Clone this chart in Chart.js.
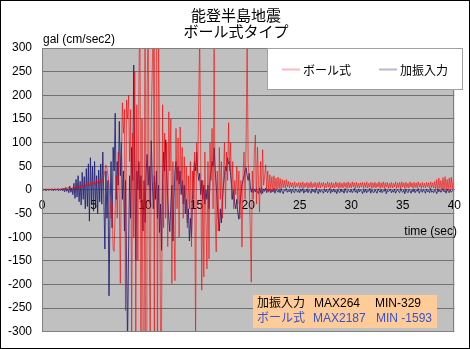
<!DOCTYPE html>
<html><head><meta charset="utf-8">
<script src="https://cdn.jsdelivr.net/npm/chart.js@4/dist/chart.umd.min.js"></script>
<style>html,body{margin:0;padding:0;background:#fff}canvas{display:block}</style>
</head><body>
<canvas id="c" width="470" height="349"></canvas>
<script>
// ---- data (sampled every 0.1 s, 0..40 s) ----
const T_START = 0;
const T_STEP = 0.1;
const X_TICK_MIN = 0, X_TICK_MAX = 40, X_TICK_STEP = 5;
const Y_TICK_MIN = -300, Y_TICK_MAX = 300, Y_TICK_STEP = 50;
const TITLE_LINES = ['能登半島地震', 'ボール式タイプ'];
const Y_TITLE = 'gal (cm/sec2)';
const X_TITLE = 'time (sec)';
const SERIES_NAMES = ['ボール式', '加振入力'];

// 加振入力 (input)
const inputAccel = [
  0,1,-1,2,-2,1,0,-1,2,-1,
  1,-2,2,-1,0,2,-2,1,-1,2,
  -2,3,-4,5,-3,2,-6,8,-5,4,
  -10,14,-18,22,-15,30,-25,18,-32,37,
  -20,28,-40,45,-35,55,-66,68,-30,50,
  -45,60,-38,30,-50,42,-25,55,-30,80,
  -20,-125,40,-60,20,-224,-40,60,-80,90,
  40,162,-20,60,10,145,30,100,-20,40,
  -87,20,-150,-329,-120,30,-60,90,20,264,
  50,-150,40,0,60,-20,30,-40,-87,20,
  -69,40,75,10,50,-30,104,20,-40,30,
  -20,40,-60,10,-90,-30,-128,20,80,40,
  106,30,-20,-60,-88,-30,10,-108,-20,40,
  60,20,50,12,40,-10,20,-30,10,-50,
  -20,-70,-40,-108,-60,-100,-20,30,60,40,
  80,40,20,35,-10,20,-20,10,-30,0,
  -20,10,-40,20,40,60,50,89,40,10,
  -30,-60,-87,-40,-70,-20,10,30,50,40,
  68,55,60,30,10,-20,0,-30,-40,-20,
  -50,-62,-30,-10,10,20,30,40,47,30,
  20,35,10,-5,3,-6,2,-4,3,-5,
  -8,4,-6,5,-7,2,-3,4,-6,1,
  -3,2,-6,0,-4,3,-7,1,-2,-5,
  1,-6,2,-3,-8,0,-2,3,-5,-1,
  -4,2,-7,1,-3,-6,2,-2,-5,0,
  -6,1,-3,3,-7,-1,-4,2,-6,0,
  -2,-7,2,-4,0,-6,3,-3,-8,1,
  -5,0,-3,-7,2,-4,1,-6,-2,3,
  -7,0,-4,2,-5,-1,-8,1,-3,-6,
  2,-4,-1,-7,3,-3,-6,0,-2,-5,
  1,-6,-2,3,-5,-1,-7,2,-4,0,
  -3,-8,1,-5,2,-6,-1,-3,3,-7,
  0,-4,-6,1,-3,-7,2,-2,-5,1,
  -6,-1,-3,3,-8,0,-4,-2,2,-6,
  -1,-5,2,-7,-2,1,-4,-6,3,-3,
  -5,0,-8,2,-3,-6,1,-2,-7,0,
  -4,2,-6,-1,-3,3,-7,-2,0,-5,
  1,-3,-7,2,-4,-1,-6,3,-5,-2,
  -6,1,-3,-8,2,-4,0,-5,-2,3,
  -4,-1,-7,2,-3,-6,1,-5,-2,0,
  -3
];

// ボール式 (ball type)
const ballAccel = [
  1,2,1,1,2,1,2,1,1,2,
  2,1,2,2,1,2,3,1,2,3,
  3,1,4,2,5,1,6,2,4,3,
  5,2,7,3,8,4,9,3,10,5,
  8,14,6,12,10,16,8,14,9,17,
  12,18,10,20,14,22,12,20,16,25,
  28,40,53,45,30,10,-20,-60,-30,-125,
  -130,-40,30,-60,80,-20,-198,60,184,120,
  170,-255,190,150,200,60,170,-310,120,-100,
  250,-320,180,-150,220,400,-350,150,-300,-340,
  350,-1593,200,380,-100,-350,150,253,400,-300,
  2187,380,-400,350,100,-320,-300,180,-80,120,
  -60,100,-120,165,40,150,-198,60,-80,-192,
  130,-40,110,-100,133,20,90,-60,70,-30,
  50,-80,30,-40,60,-120,40,-20,80,-320,
  100,40,180,330,60,-212,20,-184,80,-60,
  -167,60,-146,100,20,130,-40,310,-60,-131,
  40,-87,90,-20,60,-60,30,100,-40,80,
  20,142,40,100,-20,60,-40,20,-10,50,
  -30,40,-60,20,-121,30,80,-20,100,310,
  60,20,-80,-195,40,-20,80,116,-30,90,
  20,-47,60,-10,85,10,30,53,0,40,
  -5,32,0,28,-3,30,2,25,0,27,
  3,24,2,22,5,20,4,22,6,18,
  4,16,6,15,3,17,5,14,7,16,
  3,15,5,17,4,14,6,16,3,15,
  5,17,4,14,6,16,3,15,5,17,
  4,15,7,16,3,14,5,17,6,15,
  3,16,5,14,4,17,6,15,3,16,
  5,14,4,16,6,15,3,17,5,14,
  4,17,6,15,3,16,5,14,4,15,
  6,16,3,15,5,17,4,14,6,16,
  3,15,5,16,4,14,6,17,3,15,
  5,17,4,15,6,16,3,14,5,16,
  4,14,6,17,3,15,5,16,4,17,
  6,15,3,16,5,14,4,17,6,15,
  3,16,5,15,4,17,6,14,3,16,
  5,14,4,16,6,15,3,17,5,15,
  4,18,2,22,0,25,3,20,-1,26,
  2,28,0,22,-2,25,3,27,1,24,
  10
];

const toXY = vals => vals.map((v, i) => ({x: +(T_START + i * T_STEP).toFixed(1), y: v}));

const FONT = "'Liberation Sans', 'Noto Sans CJK JP', sans-serif";
const CJK = "'Noto Sans CJK JP', 'Liberation Sans', sans-serif";
const RED = 'rgba(255,0,0,0.6)';
const NAVY = 'rgba(25,25,115,0.8)';
const LEGEND_COLORS = ['#F9B8C0', '#B8B8D2'];

const decor = {
  id: 'decor',
  beforeDraw(chart) {
    const {ctx, chartArea: a} = chart;
    ctx.save();
    ctx.fillStyle = '#fff';
    ctx.fillRect(0, 0, chart.width, chart.height);
    ctx.fillStyle = '#C0C0C0';
    ctx.fillRect(a.left, a.top, a.right - a.left, a.bottom - a.top);
    ctx.restore();
  },
  afterDraw(chart) {
    const {ctx, chartArea: a} = chart;
    ctx.save();
    // plot frame
    ctx.strokeStyle = '#808080';
    ctx.lineWidth = 1;
    ctx.strokeRect(Math.round(a.left) + 0.5, Math.round(a.top) + 0.5, Math.round(a.right - a.left) - 1, Math.round(a.bottom - a.top) - 1);
    // title
    ctx.fillStyle = '#000';
    ctx.textAlign = 'center';
    ctx.textBaseline = 'middle';
    ctx.font = '15px ' + CJK;
    ctx.fillText(TITLE_LINES[0], 236, 15);
    ctx.fillText(TITLE_LINES[1], 236, 31);
    // axis titles
    ctx.font = '12px ' + FONT;
    ctx.textAlign = 'left';
    ctx.fillText(Y_TITLE, 43, 40);
    ctx.textAlign = 'right';
    ctx.fillText(X_TITLE, 457, 232);
    // legend
    ctx.fillStyle = '#fff';
    ctx.fillRect(267.5, 48.5, 195, 41);
    ctx.strokeStyle = '#A0A0A0';
    ctx.strokeRect(267.5, 48.5, 195, 41);
    const ds = chart.data.datasets;
    const items = [[282, 303], [379, 400]];
    ctx.font = '12px ' + CJK;
    ctx.textAlign = 'left';
    ds.forEach((d, i) => {
      ctx.strokeStyle = LEGEND_COLORS[i];
      ctx.lineWidth = 2;
      ctx.beginPath();
      ctx.moveTo(items[i][0], 69.5);
      ctx.lineTo(items[i][0] + 18, 69.5);
      ctx.stroke();
      ctx.fillStyle = '#000';
      ctx.fillText(d.label, items[i][1], 70);
    });
    // annotation box
    ctx.fillStyle = '#FFCC99';
    ctx.fillRect(253, 295, 184, 33);
    const inMax = Math.max(...inputAccel), inMin = Math.min(...inputAccel);
    const bMax = Math.max(...ballAccel), bMin = Math.min(...ballAccel);
    ctx.font = '12px ' + FONT;
    ctx.fillStyle = '#000';
    ctx.fillText(SERIES_NAMES[1], 257, 304);
    ctx.fillText('MAX' + inMax, 314, 304);
    ctx.fillText('MIN' + inMin, 375, 304);
    ctx.fillStyle = '#3355CC';
    ctx.fillText(SERIES_NAMES[0], 257, 318.5);
    ctx.fillText('MAX' + bMax, 313, 318.5);
    ctx.fillText('MIN ' + bMin, 376, 318.5);
    // outer frame
    ctx.strokeStyle = '#000';
    ctx.lineWidth = 1;
    ctx.strokeRect(0.5, 0.5, chart.width - 1, chart.height - 1);
    ctx.restore();
  }
};

new Chart(document.getElementById('c'), {
  type: 'line',
  data: {
    datasets: [
      {label: SERIES_NAMES[0], data: toXY(ballAccel), borderColor: RED, borderWidth: 1, pointRadius: 0, tension: 0, fill: false},
      {label: SERIES_NAMES[1], data: toXY(inputAccel), borderColor: NAVY, borderWidth: 1, pointRadius: 0, tension: 0, fill: false}
    ]
  },
  options: {
    responsive: false,
    animation: false,
    events: [],
    layout: {padding: {top: 48, right: 14, bottom: 14.8, left: 0}},
    plugins: {legend: {display: false}, title: {display: false}, tooltip: {enabled: false}},
    scales: {
      x: {
        type: 'linear', position: {y: 0}, min: X_TICK_MIN, max: X_TICK_MAX,
        ticks: {stepSize: X_TICK_STEP, padding: 9, color: '#000', font: {family: FONT, size: 12}, maxRotation: 0, autoSkip: false},
        grid: {display: false, drawTicks: false},
        border: {display: true, color: '#808080'}
      },
      y: {
        min: Y_TICK_MIN, max: Y_TICK_MAX,
        ticks: {stepSize: Y_TICK_STEP, padding: 10, color: '#000', font: {family: FONT, size: 12}},
        grid: {color: '#707070', drawTicks: false},
        border: {display: true, color: '#808080'},
        afterFit(s) { s.width = 42; }
      }
    }
  },
  plugins: [decor]
});
</script>
</body></html>
